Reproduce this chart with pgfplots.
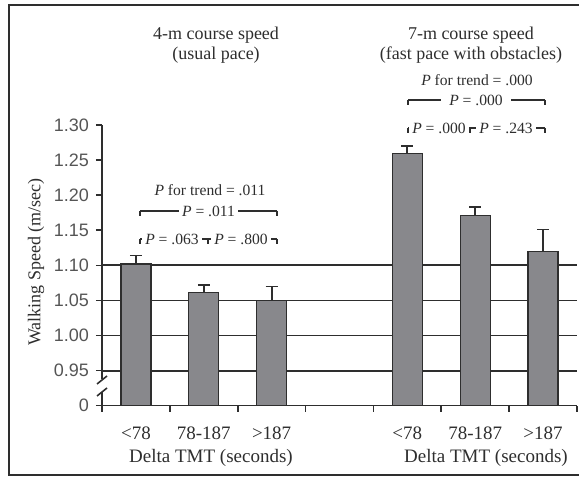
\documentclass[border=0pt]{standalone}
\usepackage{fontspec}
\setmainfont{Liberation Serif}
\newfontfamily\sansf{Liberation Sans}
\usepackage{pgfplots}
\pgfplotsset{compat=1.18}
\usepackage{xcolor}
\definecolor{BarGray}{HTML}{88888C}
\definecolor{InkDark}{HTML}{2E2E2E}
\definecolor{TickGray}{HTML}{555555}

\begin{document}
\begin{tikzpicture}
\useasboundingbox (0,0) rectangle (289.5pt,238.5pt);
\begin{axis}[
  at={(51pt,35.65pt)},anchor=south west,
  scale only axis,width=237.5pt,height=140.35pt,
  xmin=0,xmax=7,ymin=0.90,ymax=1.30,
  axis x line*=bottom,axis y line*=left,
  axis line style={-,InkDark,line width=0.8pt},
  tick align=outside,major tick length=3pt,
  tick style={InkDark,line width=0.8pt},
  xtick={0,1,2,3,4,5,6,7},
  x tick label as interval,
  xticklabels={<78,78-187,>187,,<78,78-187,>187},
  xticklabel style={font=\fontsize{9.5}{11}\selectfont,text=InkDark,yshift=-4pt},
  ytick={0.90,0.95,1.00,1.05,1.10,1.15,1.20,1.25,1.30},
  yticklabels={0,0.95,1.00,1.05,1.10,1.15,1.20,1.25,1.30},
  yticklabel style={font=\sansf\fontsize{9}{10}\selectfont,text=TickGray},
  /pgf/number format/assume math mode=true,
  extra y ticks={0.95,1.00,1.05,1.10},
  extra y tick labels={},
  extra y tick style={grid=major,major tick length=0pt},
  major grid style={InkDark,line width=0.9pt},
  ybar,bar width=15pt,
]
\addplot[fill=BarGray,draw=InkDark,line width=0.6pt,
  error bars/.cd,y dir=plus,y explicit,
  error bar style={InkDark,line width=0.9pt},
  error mark options={rotate=90,mark size=3pt,line width=0.9pt,InkDark}]
  coordinates {
  (0.5,1.102) +- (0,0.012)
  (1.5,1.061) +- (0,0.011)
  (2.5,1.050) +- (0,0.020)
  (4.5,1.259) +- (0,0.011)
  (5.5,1.171) +- (0,0.012)
  (6.5,1.120) +- (0,0.031)
  };
\end{axis}
\begin{scope}[x=0.5pt,y=-0.5pt,shift={(0,238.5pt)},InkDark]
  % frame
  \draw[line width=1pt] (579,5.5) -- (8.5,5.5) -- (8.5,475) -- (579,475);
  % axis break
  \fill[white] (99,379.5) rectangle (105,392.5);
  \draw[line width=0.8pt] (97,384) -- (107,376);
  \draw[line width=0.8pt] (97,396) -- (107,388);
  % titles
  \node[font=\fontsize{9}{10}\selectfont,align=center] at (216,45)
    {4-m course speed\\(usual pace)};
  \node[font=\fontsize{9}{10}\selectfont,align=center] at (471,45)
    {7-m course speed\\(fast pace with obstacles)};
  % axis titles
  \node[font=\fontsize{9.5}{11}\selectfont] at (211,458) {Delta TMT (seconds)};
  \node[font=\fontsize{9.5}{11}\selectfont] at (486,458) {Delta TMT (seconds)};
  \node[font=\fontsize{9}{10}\selectfont,rotate=90] at (36,262) {Walking Speed (m/sec)};
  \begin{scope}[every node/.style={font=\fontsize{7.8}{9}\selectfont,fill=white,inner xsep=1.5pt,inner ysep=0pt},
                line width=0.6pt]
    % P values, 4-m
    \node[fill=none] at (210,190) {\textit{P} for trend = .011};
    \draw (140,211) -- (277,211);
    \node at (208.5,211) {\textit{P} = .011};
    \draw (140,216) -- (140,211) (277,211) -- (277,216);
    \draw (140,239) -- (277,239);
    \node at (172,239) {\textit{P} = .063};
    \node at (241,239) {\textit{P} = .800};
    \draw (140,244) -- (140,239) (208,239) -- (208,244) (277,239) -- (277,244);
    % P values, 7-m
    \node[fill=none] at (477,80) {\textit{P} for trend = .000};
    \draw (408,100) -- (545,100);
    \node[inner xsep=4pt] at (476,100) {\textit{P} = .000};
    \draw (408,105) -- (408,100) (545,100) -- (545,105);
    \draw (408,128) -- (545,128);
    \node at (439,128) {\textit{P} = .000};
    \node at (506,128) {\textit{P} = .243};
    \draw (408,133) -- (408,128) (470,128) -- (470,133) (545,128) -- (545,133);
  \end{scope}
\end{scope}
\end{tikzpicture}
\end{document}
